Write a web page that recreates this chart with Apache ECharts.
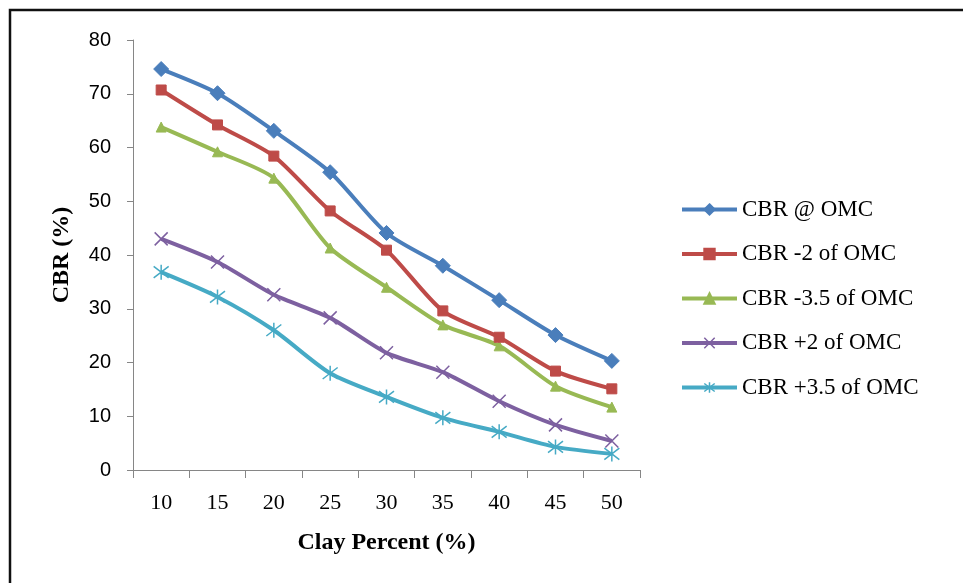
<!DOCTYPE html>
<html>
<head>
<meta charset="utf-8">
<script src="https://cdn.jsdelivr.net/npm/echarts@6/dist/echarts.min.js"></script>
<style>html,body{margin:0;padding:0;background:#fff}#c{width:963px;height:583px}</style>
</head>
<body>
<div id="c"></div>
<script>
const categories = ['10','15','20','25','30','35','40','45','50'];
const seriesNames = ['CBR @ OMC','CBR -2 of OMC','CBR -3.5 of OMC','CBR +2 of OMC','CBR +3.5 of OMC'];
const cbrAtOMC   = [74.6, 70.1, 63.1, 55.4, 44.1, 38.0, 31.6, 25.1, 20.3];
const cbrMinus2  = [70.7, 64.2, 58.4, 48.2, 40.9, 29.6, 24.7, 18.4, 15.1];
const cbrMinus35 = [63.8, 59.2, 54.3, 41.3, 34.0, 27.0, 23.1, 15.6, 11.7];
const cbrPlus2   = [43.0, 38.7, 32.6, 28.3, 21.8, 18.2, 12.8, 8.4, 5.4];
const cbrPlus35  = [36.8, 32.2, 26.0, 18.0, 13.6, 9.7, 7.1, 4.3, 3.0];
const yTicks = [0, 10, 20, 30, 40, 50, 60, 70, 80];

const colors = ['#4A7EBB', '#BE4B48', '#98B954', '#7D60A0', '#46AAC5'];
const xPath = 'path://M0,0L10,10M10,0L0,10';
const starPath = 'path://M0,0L10,10M10,0L0,10M5,-1.5L5,11.5';

const data = [cbrAtOMC, cbrMinus2, cbrMinus35, cbrPlus2, cbrPlus35];
const symbols = ['diamond', 'rect', 'triangle', xPath, starPath];
const sizes = [15, 10, 10, 13, 15];

const series = data.map((d, i) => ({
  name: seriesNames[i],
  type: 'line',
  data: d,
  smooth: 0.25,
  symbol: symbols[i],
  symbolSize: sizes[i],
  showAllSymbol: true,
  lineStyle: { color: colors[i], width: 4 },
  itemStyle: i >= 3
    ? { color: 'rgba(0,0,0,0)', borderColor: colors[i], borderWidth: 1.5 }
    : { color: colors[i], borderColor: colors[i], borderWidth: 1 },
  emphasis: { disabled: true },
  z: 10 - i
}));

const chart = echarts.init(document.getElementById('c'), null, { renderer: 'canvas' });
chart.setOption({
  animation: false,
  color: colors,
  graphic: [{
    type: 'rect',
    shape: { x: 10, y: 10, width: 1000, height: 700 },
    style: { fill: 'none', stroke: '#111', lineWidth: 2.5 },
    silent: true
  }],
  grid: { left: 133, right: 323, top: 40, bottom: 113 },
  legend: {
    orient: 'vertical',
    left: 680,
    top: 198,
    padding: 0,
    itemWidth: 55,
    itemHeight: 13,
    itemGap: 21.5,
    lineStyle: { width: 4 },
    textStyle: { fontFamily: 'Liberation Serif', fontSize: 23, color: '#000' },
    data: seriesNames.map((n, i) => ({
      name: n,
      itemStyle: i >= 3 ? { color: 'rgba(0,0,0,0)', borderColor: colors[i], borderWidth: 1.5 } : { color: colors[i] }
    }))
  },
  xAxis: {
    type: 'category',
    data: categories,
    boundaryGap: true,
    name: 'Clay Percent (%)',
    nameLocation: 'middle',
    nameGap: 61,
    nameTextStyle: { fontFamily: 'Liberation Serif', fontWeight: 'bold', fontSize: 24, color: '#000' },
    axisLine: { lineStyle: { color: '#868686', width: 1 } },
    axisTick: { show: true, length: 8, inside: false, lineStyle: { color: '#868686' }, alignWithLabel: false },
    axisLabel: { fontFamily: 'Liberation Serif', fontSize: 22, color: '#000', margin: 22 },
    splitLine: { show: false }
  },
  yAxis: {
    type: 'value',
    min: 0,
    max: 80,
    interval: 10,
    name: 'CBR (%)',
    nameLocation: 'middle',
    nameGap: 59,
    nameRotate: 90,
    nameTextStyle: { fontFamily: 'Liberation Serif', fontWeight: 'bold', fontSize: 24, color: '#000' },
    axisLine: { show: true, lineStyle: { color: '#868686', width: 1 } },
    axisTick: { show: true, length: 6, lineStyle: { color: '#868686' } },
    axisLabel: { fontFamily: 'Liberation Sans', fontSize: 20, color: '#000', margin: 22,
      formatter: v => yTicks.includes(v) ? String(v) : '' },
    splitLine: { show: false }
  },
  series: series
});
</script>
</body>
</html>
